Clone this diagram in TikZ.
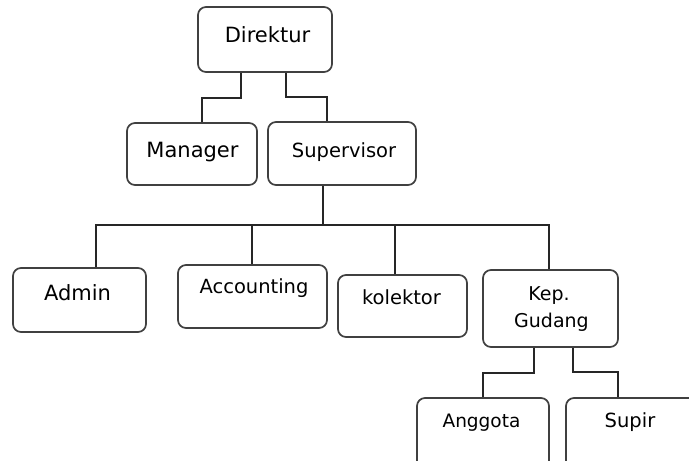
\documentclass[tikz,border=0pt]{standalone}
\usepackage{fontspec}
\setmainfont{DejaVu Sans}
\begin{document}
\begin{tikzpicture}[x=1pt,y=-1pt,
  box/.style={draw=black!75,line width=1.7pt,rounded corners=8pt,inner sep=0pt},
  lbl/.style={anchor=base,inner sep=0pt,font=\fontsize{19.5}{22}\selectfont},
  big/.style={font=\fontsize{21}{24}\selectfont},
  conn/.style={draw=black!85,line width=1.5pt}]
\useasboundingbox (0,0) rectangle (689,461);
\clip (0,0) rectangle (689,461);
% boxes
\node[box,minimum width=134pt,minimum height=65pt] (dir) at (265,39.5) {};
\node[box,minimum width=130pt,minimum height=62pt] (man) at (192,154) {};
\node[box,minimum width=148pt,minimum height=63pt] (sup) at (342,153.5) {};
\node[box,minimum width=133pt,minimum height=64pt] (adm) at (79.5,300) {};
\node[box,minimum width=149pt,minimum height=63pt] (acc) at (252.5,296.5) {};
\node[box,minimum width=129pt,minimum height=62pt] (kol) at (402.5,306) {};
\node[box,minimum width=135pt,minimum height=77pt] (kep) at (550.5,308.5) {};
\node[box,minimum width=132pt,minimum height=80pt] (ang) at (483,438) {};
\node[box,minimum width=134pt,minimum height=80pt] (spr) at (633,438) {};
% labels
\node[lbl,big] (tdir) at (267.5,42) {Direktur};
\node[lbl,big] (tman) at (192.5,157) {Manager};
\node[lbl] (tsup) at (344,157) {Supervisor};
\node[lbl,big] (tadm) at (77.5,300) {Admin};
\node[lbl] (tacc) at (254,293) {Accounting};
\node[lbl] (tkol) at (401.5,304) {kolektor};
\node[lbl,font=\fontsize{19}{22}\selectfont] (tkep1) at (549,300) {Kep.};
\node[lbl,font=\fontsize{19}{22}\selectfont] (tkep2) at (551.5,327) {Gudang};
\node[lbl,font=\fontsize{18.5}{22}\selectfont] (tang) at (481.5,427) {Anggota};
\node[lbl] (tspr) at (630,427) {Supir};
% connector coordinates
\coordinate (bus) at (323,225);
% connectors
\draw[conn] (dir.south -| 241,0) -- (241,98) -| (man.north -| 202,0);
\draw[conn] (dir.south -| 286,0) -- (286,97) -| (sup.north -| 327,0);
\draw[conn] (sup.south -| bus) -- (bus);
\draw[conn] (bus) -| (adm.north -| 96,0);
\draw[conn] (bus) -| (acc.north -| 252,0);
\draw[conn] (bus) -| (kol.north -| 395,0);
\draw[conn] (bus) -| (kep.north -| 549,0);
\draw[conn] (kep.south -| 534,0) -- (534,373) -| (ang.north -| 483,0);
\draw[conn] (kep.south -| 573,0) -- (573,372) -| (spr.north -| 618,0);
\end{tikzpicture}
\end{document}
